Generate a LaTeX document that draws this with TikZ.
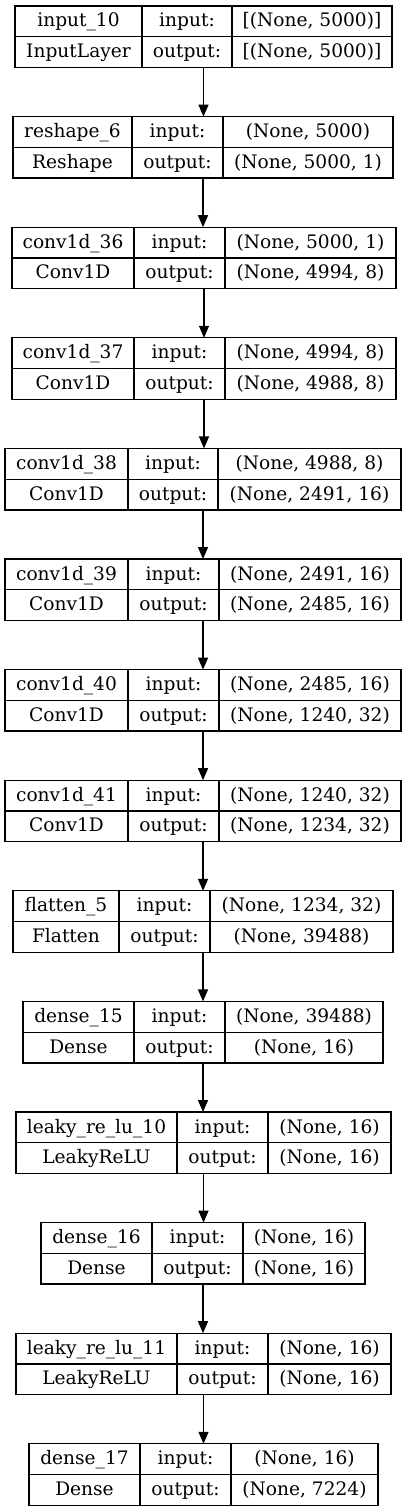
\documentclass[tikz,border=0pt]{standalone}
\usepackage{fontspec}
\setmainfont{DejaVu Serif}
\usetikzlibrary{arrows.meta,calc}
\definecolor{rule}{HTML}{000000}
\tikzset{
  box/.style={draw=rule, line width=1.3pt, inner sep=0pt, outer sep=0pt, minimum height=61.5pt},
  cut/.style={draw=rule, line width=1.3pt},
  lbl/.style={font=\fontsize{18.6}{20}\selectfont, inner sep=0pt, anchor=base},
  ar/.style={-{Triangle[length=12pt,width=10pt]}, line width=1.3pt, color=rule},
}
% #1 index, #2 left, #3 first cut, #4 second cut, #5 right,
% #6 layer, #7 class, #8 input shape, #9 output shape
\newcommand\layerbox[9]{%
  \pgfmathsetmacro\ytop{-(6+110.6*(#1-1))}
  \node[box, minimum width={(#5-#2)*1pt}] (n#1) at ({(#2+#5)/2}, \ytop-30.75) {};
  \draw[cut] (#3,\ytop) -- (#3,\ytop-61.5);
  \draw[cut] (#4,\ytop) -- (#4,\ytop-61.5);
  \draw[cut] (#2,\ytop-30.75) -- (#5,\ytop-30.75);
  \node[lbl] at ({(#2+#3)/2}, \ytop-21) {#6};
  \node[lbl] at ({(#2+#3)/2}, \ytop-51.75) {#7};
  \node[lbl] at ({(#3+#4)/2}, \ytop-21) {input:};
  \node[lbl] at ({(#3+#4)/2}, \ytop-51.75) {output:};
  \node[lbl] at ({(#4+#5)/2}, \ytop-21) {#8};
  \node[lbl] at ({(#4+#5)/2}, \ytop-51.75) {#9};
}

\begin{document}
\begin{tikzpicture}[x=1pt, y=1pt]
\useasboundingbox[fill=white] (0,0) rectangle (407,-1512);
% layers
\layerbox{1}{15}{142}{232}{392}{input\_10}{InputLayer}{[(None, 5000)]}{[(None, 5000)]}
\layerbox{2}{13}{132}{223}{393}{reshape\_6}{Reshape}{(None, 5000)}{(None, 5000, 1)}
\layerbox{3}{12}{134}{225}{396}{conv1d\_36}{Conv1D}{(None, 5000, 1)}{(None, 4994, 8)}
\layerbox{4}{12}{134}{225}{396}{conv1d\_37}{Conv1D}{(None, 4994, 8)}{(None, 4988, 8)}
\layerbox{5}{5}{128}{218}{401}{conv1d\_38}{Conv1D}{(None, 4988, 8)}{(None, 2491, 16)}
\layerbox{6}{5}{128}{219}{401}{conv1d\_39}{Conv1D}{(None, 2491, 16)}{(None, 2485, 16)}
\layerbox{7}{5}{128}{219}{401}{conv1d\_40}{Conv1D}{(None, 2485, 16)}{(None, 1240, 32)}
\layerbox{8}{5}{128}{219}{401}{conv1d\_41}{Conv1D}{(None, 1240, 32)}{(None, 1234, 32)}
\layerbox{9}{13}{119}{210}{393}{flatten\_5}{Flatten}{(None, 1234, 32)}{(None, 39488)}
\layerbox{10}{23}{134}{225}{383}{dense\_15}{Dense}{(None, 39488)}{(None, 16)}
\layerbox{11}{16}{177}{268}{391}{leaky\_re\_lu\_10}{LeakyReLU}{(None, 16)}{(None, 16)}
\layerbox{12}{41}{152}{243}{365}{dense\_16}{Dense}{(None, 16)}{(None, 16)}
\layerbox{13}{16}{177}{268}{391}{leaky\_re\_lu\_11}{LeakyReLU}{(None, 16)}{(None, 16)}
\layerbox{14}{29}{140}{231}{378}{dense\_17}{Dense}{(None, 16)}{(None, 7224)}

% edges
\draw[ar] (n1.south) -- (n1.south |- n2.north); \draw[ar] (n2.south) -- (n2.south |- n3.north);
\draw[ar] (n3.south) -- (n3.south |- n4.north); \draw[ar] (n4.south) -- (n4.south |- n5.north);
\draw[ar] (n5.south) -- (n5.south |- n6.north); \draw[ar] (n6.south) -- (n6.south |- n7.north);
\draw[ar] (n7.south) -- (n7.south |- n8.north); \draw[ar] (n8.south) -- (n8.south |- n9.north);
\draw[ar] (n9.south) -- (n9.south |- n10.north); \draw[ar] (n10.south) -- (n10.south |- n11.north);
\draw[ar] (n11.south) -- (n11.south |- n12.north); \draw[ar] (n12.south) -- (n12.south |- n13.north);
\draw[ar] (n13.south) -- (n13.south |- n14.north);
\end{tikzpicture}
\end{document}
